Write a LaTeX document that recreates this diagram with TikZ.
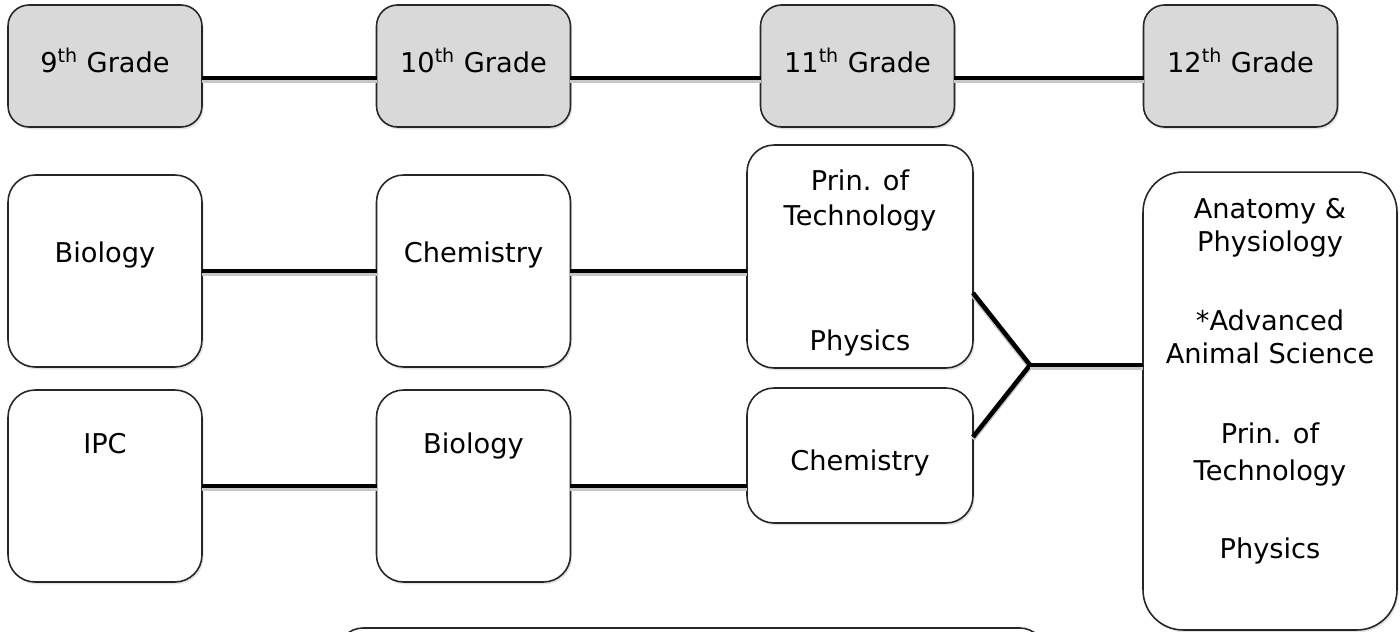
\documentclass[tikz,border=0pt]{standalone}
\usepackage{fontspec}
\setmainfont{DejaVu Sans}
\usetikzlibrary{shadows}
\definecolor{gfill}{HTML}{D9D9D9}
\definecolor{edge}{HTML}{262626}
\begin{document}
\begin{tikzpicture}[x=0.02cm,y=-0.02cm,
  basebox/.style={draw=edge, line width=0.9pt, inner sep=0pt, outer sep=0pt,
     drop shadow={opacity=0.22, shadow xshift=0.9pt, shadow yshift=-1.3pt}},
  gbox/.style={basebox, fill=gfill, rounded corners=0.42cm, minimum width=3.88cm, minimum height=2.44cm},
  wbox/.style={basebox, fill=white, rounded corners=0.54cm, minimum width=3.88cm, minimum height=3.84cm},
  txt/.style={anchor=base, inner sep=0pt, font=\fontsize{15.5}{19}\selectfont},
  conn/.style={line width=2.6pt, black,
     preaction={draw=black!22, line width=2.6pt, transform canvas={yshift=-1.3pt}}}]
\useasboundingbox (0,0) rectangle (1400,632);
\clip (0,0) rectangle (1400,632);

% grade boxes
\node[gbox] (g9)  at (105,66) {};
\node[gbox] (g10) at (473.5,66) {};
\node[gbox] (g11) at (857.5,66) {};
\node[gbox] (g12) at (1240.5,66) {};

% course boxes
\node[wbox] (b1) at (105,271) {};
\node[wbox] (c1) at (473.5,271) {};
\node[wbox, minimum width=4.52cm, minimum height=4.46cm] (pt) at (860,256.5) {};
\node[wbox] (ipc) at (105,486) {};
\node[wbox] (b2) at (473.5,486) {};
\node[wbox, minimum width=4.52cm, minimum height=2.70cm] (c2) at (860,455.5) {};
\node[wbox, rounded corners=0.8cm, minimum width=5.08cm, minimum height=9.16cm] (rb) at (1270,401) {};
\node[basebox, fill=white, rounded corners=0.5cm, minimum width=14.14cm, minimum height=3cm, anchor=north west] (bb) at (338,628) {};

% connectors
\draw[conn] ([yshift=-12*0.02cm]g9.east) -- ([yshift=-12*0.02cm]g10.west);
\draw[conn] ([yshift=-12*0.02cm]g10.east) -- ([yshift=-12*0.02cm]g11.west);
\draw[conn] ([yshift=-12*0.02cm]g11.east) -- ([yshift=-12*0.02cm]g12.west);
\draw[conn] (b1.east) -- (c1.west);
\draw[conn] (c1.east) -- (pt.west |- c1.east);
\draw[conn] (ipc.east) -- (b2.west);
\draw[conn] (b2.east) -- (c2.west |- b2.east);
\coordinate (j) at (1030,365);
\draw[conn] ([yshift=-36.5*0.02cm]pt.east) -- (j) -- ([yshift=18.5*0.02cm]c2.east);
\draw[conn] (j) -- (j -| rb.west);

% texts
\node[txt] (t9)  at (105,72)    {9\textsuperscript{th} Grade};
\node[txt] (t10) at (473.5,72)  {10\textsuperscript{th} Grade};
\node[txt] (t11) at (857.5,72)  {11\textsuperscript{th} Grade};
\node[txt] (t12) at (1240.5,72) {12\textsuperscript{th} Grade};

\node[txt] (tb1) at (105,262)   {Biology};
\node[txt] (tc1) at (473.5,262) {Chemistry};
\node[txt] (tp1) at (860,190)   {Prin. of};
\node[txt] (tp2) at (860,225)   {Technology};
\node[txt] (tp3) at (860,350)   {Physics};

\node[txt] (tipc) at (105,453)  {IPC};
\node[txt] (tb2) at (473.5,453) {Biology};
\node[txt] (tc2) at (860,470)   {Chemistry};

\node[txt] (r1) at (1270,218) {Anatomy \&};
\node[txt] (r2) at (1270,251) {Physiology};
\node[txt] (r3) at (1270,330) {*Advanced};
\node[txt] (r4) at (1270,363) {Animal Science};
\node[txt] (r5) at (1270,443) {Prin. of};
\node[txt] (r6) at (1270,480) {Technology};
\node[txt] (r7) at (1270,558) {Physics};
\end{tikzpicture}
\end{document}
